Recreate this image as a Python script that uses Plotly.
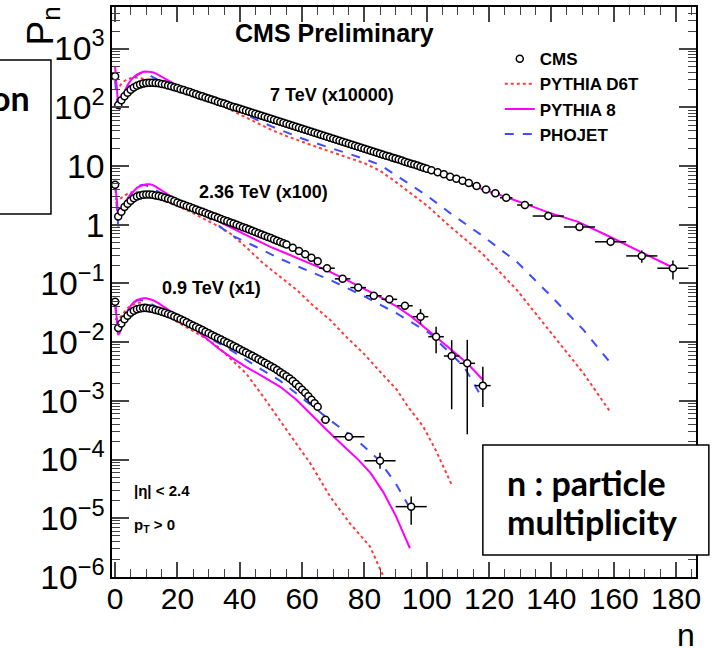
import plotly.graph_objects as go

# ---------------- CMS data (scaled) ----------------
n7_cms = list(range(0, 101)) + [101.5, 103.5, 105.5, 107.5, 109.5, 111.5, 113.5, 116, 119, 122, 125.5,
                                 131.5, 139, 149, 159, 169, 179]
p7_cms = [339, 110, 132, 155, 178, 200, 219, 234, 245, 254, 260, 263, 263, 260, 257, 251, 245, 237, 229, 221,
          214, 204, 197, 189, 182, 174, 167, 160, 154, 148, 142, 136, 131, 125, 120, 116, 111, 106, 102,
          98.4, 94.6, 91.0, 87.5, 84.1, 80.9, 77.8, 74.8, 71.9, 69.2, 66.5, 64.0, 61.5, 59.2, 56.9, 54.7,
          52.6, 50.6, 48.6, 46.8, 45.0, 43.3, 41.6, 40.0, 38.5, 37.0, 35.6, 34.2, 32.9, 31.6, 30.4, 29.2,
          28.1, 27.0, 26.0, 25.0, 24.0, 23.1, 22.2, 21.4, 20.6, 19.8,
          19.0, 18.3, 17.6, 16.9, 16.3, 15.6, 15.0, 14.5, 13.9, 13.4, 12.9, 12.4, 11.9, 11.4, 11.0, 10.6,
          10.2, 9.77, 9.40, 9.04,
          8.51, 7.85, 7.24, 6.61, 6.10, 5.62, 5.13, 4.57, 3.98, 3.43, 2.88, 2.17, 1.41, 0.918, 0.513,
          0.295, 0.182]
ex7_cms = [0] * 101 + [1, 1, 1, 1, 1, 1, 1, 1.5, 1.5, 1.5, 2, 2.5, 5, 5, 5, 5, 5]
ey7_cms = [0] * 101 + [0, 0, 0, 0, 0, 0, 0, 0, 0, 0, 0, 0.1, 0.13, 0.10, 0.08, 0.07, 0.065]

n2_cms = list(range(0, 56)) + [57, 59, 61, 63, 65, 68, 73, 78, 83, 88, 93, 98, 103, 108, 113, 118]
p2_cms = [4.79, 1.38, 1.66, 2.00, 2.29, 2.57, 2.82, 3.02, 3.16, 3.24, 3.27, 3.27, 3.24, 3.16, 3.09, 2.99,
          2.88, 2.77, 2.66, 2.53, 2.40, 2.29, 2.19, 2.09, 2.00, 1.91, 1.82, 1.74, 1.66, 1.585, 1.51, 1.445,
          1.38, 1.32, 1.26, 1.20, 1.148, 1.096, 1.047, 1.0, 0.955, 0.912, 0.871, 0.832, 0.793, 0.755,
          0.719, 0.685, 0.653, 0.622, 0.593, 0.564, 0.536, 0.509, 0.484, 0.460,
          0.407, 0.359, 0.316, 0.275, 0.240,
          0.182, 0.120, 0.0851, 0.0617, 0.0537, 0.0417, 0.0272, 0.0124, 0.00582, 0.00437, 0.00182]
ex2_cms = [0] * 56 + [1] * 5 + [2.5] * 11
ey2_up = [0] * 61 + [0.008, 0.006, 0.005, 0.0055, 0.0065, 0.0062, 0.0095, 0.0060, 0.0050, 0.0066, 0.0020]
ey2_dn = [0] * 61 + [0.008, 0.006, 0.005, 0.0050, 0.0058, 0.0054, 0.0071, 0.0059, 0.0051, 0.0041, 0.00103]

n09_cms = list(range(0, 66)) + [67.5, 75, 85, 95]
p09_cms = [0.0490, 0.0174, 0.0209, 0.0245, 0.0282, 0.0316, 0.0343, 0.0363, 0.0376, 0.0382, 0.0382, 0.0376,
           0.0366, 0.0355, 0.0343, 0.0330, 0.0316, 0.0303, 0.0290, 0.0275, 0.0260, 0.0245, 0.0231, 0.0218,
           0.0205, 0.0193, 0.0182, 0.0171, 0.0161, 0.0151, 0.0142, 0.0133, 0.0125, 0.0118, 0.0111, 0.0104,
           0.00977, 0.00918, 0.00863, 0.00809, 0.00759, 0.00711, 0.00667, 0.00625, 0.00586, 0.00550,
           0.00513, 0.00479, 0.00447, 0.00417, 0.00389, 0.00363, 0.00335, 0.00309, 0.00285, 0.00263,
           0.00240, 0.00219, 0.00195, 0.00174, 0.00155, 0.00138, 0.00120, 0.00105, 0.000912, 0.000794,
           0.000479, 0.000245, 9.55e-5, 1.58e-5]
ex09_cms = [0] * 66 + [1.5, 5, 5, 5]
ey09_up = [0] * 66 + [3e-5, 1.7e-5, 3.5e-5, 7.6e-6]
ey09_dn = [0] * 66 + [3e-5, 1.7e-5, 2.6e-5, 8.0e-6]

# ---------------- MC: 7 TeV (x10000) ----------------
n7_p8 = [0, 1, 2, 3, 4, 5, 6, 7, 8, 9, 10, 11, 12, 13, 14, 16, 18, 20, 24, 28, 32, 36, 40, 45, 50, 55, 60,
         65, 70, 75, 80, 85, 90, 95, 100, 107.5, 115, 120, 125, 131.5, 138.5, 148.6, 158.6, 168.6, 178.6]
p7_p8 = [490, 107, 141, 191, 240, 288, 331, 363, 389, 403, 407, 407, 398, 380, 355, 309, 269, 234, 186, 151,
         123, 100, 85.1, 69.2, 56.2, 46.8, 38.9, 32.4, 27.5, 22.9, 19.1, 15.8, 13.2, 11.0, 8.91, 6.31, 4.57,
         3.72, 3.02, 2.29, 1.66, 1.12, 0.631, 0.347, 0.191]
n7_pho = [0, 1, 2, 3, 4, 5, 6, 7, 8, 9, 10, 11, 12, 14, 16, 18, 20, 25, 30, 35, 40, 45, 50, 55, 60, 65, 70,
          75, 80, 85, 91.4, 100, 107.5, 118.2, 128.9, 139.6, 150.3, 158.6]
p7_pho = [282, 79.4, 112, 158, 209, 263, 316, 355, 380, 380, 372, 355, 331, 288, 257, 234, 214, 174, 141, 112,
          87.1, 63.1, 47.9, 37.2, 29.5, 24.0, 20.0, 16.2, 13.2, 10.5, 6.31, 3.16, 1.58, 0.631, 0.234, 0.0631,
          0.0162, 0.00468]
n7_d6t = [0, 1, 2, 3, 4, 5, 6, 7, 8, 10, 12, 15, 20, 25, 30, 35, 40, 45, 50, 55, 60, 65, 70, 75, 80, 85,
          89.3, 95, 100, 107.5, 118, 128.9, 139.6, 150.3, 158.8]
p7_d6t = [200, 214, 251, 282, 302, 316, 324, 324, 316, 302, 282, 251, 214, 178, 141, 105, 75.9, 56.2, 41.7,
          32.4, 25.7, 20.9, 17.0, 13.8, 11.2, 8.32, 5.75, 3.39, 2.14, 0.933, 0.316, 0.0776, 0.0151, 0.00295,
          0.000661]

# ---------------- MC: 2.36 TeV (x100) ----------------
n2_p8 = [0, 1, 2, 3, 4, 5, 6, 7, 8, 9, 10, 11, 12, 13, 14, 16, 18, 20, 25, 30, 35, 40, 45, 50, 55, 60, 65,
         69, 75, 80, 85, 90, 95, 101, 107.5, 113, 118]
p2_p8 = [5.37, 1.38, 1.82, 2.29, 2.82, 3.31, 3.80, 4.27, 4.57, 4.79, 4.90, 4.90, 4.79, 4.47, 4.17, 3.55, 3.02,
         2.51, 1.86, 1.38, 1.00, 0.741, 0.550, 0.417, 0.324, 0.251, 0.195, 0.158, 0.110, 0.0813, 0.0589,
         0.0417, 0.0275, 0.0151, 0.00759, 0.00437, 0.00229]
n2_pho = [0, 1, 2, 3, 4, 5, 6, 7, 8, 9, 10, 11, 12, 14, 16, 18, 20, 25, 30, 37, 45, 53, 60, 69, 80, 90.4,
          101, 107.5, 112, 118.2]
p2_pho = [5.01, 0.933, 1.41, 2.00, 2.63, 3.31, 3.89, 4.37, 4.68, 4.79, 4.68, 4.47, 4.17, 3.63, 3.16, 2.82,
          2.51, 1.86, 1.32, 0.676, 0.427, 0.263, 0.182, 0.115, 0.0603, 0.0309, 0.0141, 0.00646, 0.00380,
          0.00102]
n2_d6t = [0, 1, 2, 3, 4, 5, 6, 7, 8, 10, 12, 15, 20, 25, 30, 34, 37, 42, 47.6, 53, 58.3, 63, 69, 74, 79.7,
          85, 90.4, 94, 98.9, 103, 108]
p2_d6t = [2.82, 2.63, 2.88, 3.16, 3.39, 3.55, 3.63, 3.63, 3.55, 3.31, 3.02, 2.63, 2.09, 1.58, 1.15, 0.891,
          0.708, 0.417, 0.219, 0.132, 0.0776, 0.0447, 0.0240, 0.0126, 0.00646, 0.00316, 0.00155, 0.000794,
          0.000363, 0.000141, 3.72e-5]

# ---------------- MC: 0.9 TeV (x1) ----------------
n09_p8 = [0, 1, 2, 3, 4, 5, 6, 7, 8, 9, 10, 11, 12, 14, 16, 18, 20, 25, 29, 33, 37, 42, 47.6, 53, 58, 63,
          68, 74, 78, 82, 86, 90, 94.6]
p09_p8 = [0.0501, 0.0132, 0.0191, 0.0263, 0.0339, 0.0417, 0.0479, 0.0525, 0.0550, 0.0562, 0.0562, 0.0550,
          0.0525, 0.0457, 0.0389, 0.0331, 0.0282, 0.0178, 0.0117, 0.00794, 0.00562, 0.00380, 0.00257,
          0.00174, 0.00107, 0.000575, 0.000316, 0.000158, 0.0001, 5.89e-5, 2.82e-5, 1.12e-5, 3.09e-6]
n09_pho = [0, 1, 2, 3, 4, 5, 6, 7, 8, 9, 10, 12, 14, 16, 18, 20, 25, 30, 37, 45, 53, 60, 69, 77.6, 84.5,
           90, 94.6]
p09_pho = [0.0447, 0.0123, 0.0178, 0.0251, 0.0331, 0.0407, 0.0468, 0.0513, 0.0525, 0.0513, 0.0490, 0.0437,
           0.0380, 0.0331, 0.0288, 0.0251, 0.0174, 0.0120, 0.00741, 0.00398, 0.00219, 0.00112, 0.000468,
           0.000214, 0.0001, 3.98e-5, 1.48e-5]
n09_d6t = [0, 1, 2, 3, 4, 5, 6, 7, 8, 9, 10, 12, 15, 20, 25, 29, 33, 37, 42, 47.6, 53, 58, 62.6, 69, 75.4,
           81.8, 87]
p09_d6t = [0.0251, 0.0240, 0.0282, 0.0331, 0.0380, 0.0417, 0.0447, 0.0468, 0.0468, 0.0457, 0.0437, 0.0389,
           0.0316, 0.0224, 0.0158, 0.0117, 0.00832, 0.00525, 0.00295, 0.00117, 0.000468, 0.000191, 8.71e-5,
           2.34e-5, 8.13e-6, 3.31e-6, 7.94e-7]

# ---------------- styles ----------------
RED = "#ff3b3b"
MAG = "#ff00ff"
BLUE = "#3f4dff"
FONT = "Liberation Sans, Arial, sans-serif"
BOXFONT = "Lato, Open Sans, sans-serif"

fig = go.Figure()

def mc(x, y, name, color, dash, show, rank):
    fig.add_trace(go.Scatter(x=x, y=y, mode="lines", name=name, legendgroup=name, showlegend=show,
                             legendrank=rank, line=dict(color=color, width=2, dash=dash)))

for (nx, py, s) in [(n7_d6t, p7_d6t, True), (n2_d6t, p2_d6t, False), (n09_d6t, p09_d6t, False)]:
    mc(nx, py, "PYTHIA D6T", RED, "dot", s, 2)
for (nx, py, s) in [(n7_pho, p7_pho, True), (n2_pho, p2_pho, False), (n09_pho, p09_pho, False)]:
    mc(nx, py, "PHOJET", BLUE, "dash", s, 4)
for (nx, py, s) in [(n7_p8, p7_p8, True), (n2_p8, p2_p8, False), (n09_p8, p09_p8, False)]:
    mc(nx, py, "PYTHIA 8", MAG, "solid", s, 3)

def cms(x, y, ex, eyu, eyd, show):
    fig.add_trace(go.Scatter(
        x=x, y=y, mode="markers", name="CMS", legendgroup="CMS", showlegend=show, legendrank=1,
        marker=dict(symbol="circle", size=7, color="white", line=dict(color="black", width=1.5)),
        error_x=dict(type="data", array=ex, symmetric=True, thickness=1.5, width=0, color="black"),
        error_y=dict(type="data", array=eyu, arrayminus=eyd, symmetric=False, thickness=1.5, width=0,
                     color="black")))

cms(n7_cms, p7_cms, ex7_cms, ey7_cms, ey7_cms, True)
cms(n2_cms, p2_cms, ex2_cms, ey2_up, ey2_dn, False)
cms(n09_cms, p09_cms, ex09_cms, ey09_up, ey09_dn, False)

# ---------------- layout ----------------
def ann(text, x, y, size, xanchor="center", bold=True, family=FONT, angle=0):
    fig.add_annotation(text=text, x=x, y=y, xref="paper", yref="paper", showarrow=False,
                       xanchor=xanchor, yanchor="middle", textangle=angle,
                       font=dict(family=family, size=size, color="black",
                                 weight="bold" if bold else "normal"))

ann("CMS Preliminary", 0.3818, 0.954, 25)
ann("7 TeV (x10000)", 0.3767, 0.8456, 18)
ann("2.36 TeV (x100)", 0.2594, 0.6754, 18)
ann("0.9 TeV (x1)", 0.1712, 0.507, 18)
ann("|η| < 2.4", 0.0342, 0.1526, 15, xanchor="left")
ann("p<sub>T</sub> > 0", 0.0342, 0.0912, 15, xanchor="left")
ann("P<sub>n</sub>", -0.118, 0.966, 37, bold=False, angle=-90)
ann("n", 0.983, -0.102, 32, bold=False)

# text boxes
fig.add_shape(type="rect", xref="paper", yref="paper", x0=0.635, x1=1.022, y0=0.0386, y1=0.2316,
              line=dict(color="black", width=1.5), fillcolor="white", layer="above")
fig.add_shape(type="rect", xref="paper", yref="paper", x0=-0.25, x1=-0.1045, y0=0.637, y1=0.907,
              line=dict(color="black", width=1.5), fillcolor="white", layer="above")
ann("n : particle", 0.673, 0.165, 34, xanchor="left", family=BOXFONT)
ann("multiplicity", 0.673, 0.0965, 34, xanchor="left", family=BOXFONT)
ann("on", -0.137, 0.842, 34, xanchor="right", family=BOXFONT)

fig.update_layout(
    width=713, height=648,
    margin=dict(l=112, r=17, t=7, b=71, autoexpand=False),
    paper_bgcolor="white", plot_bgcolor="white",
    font=dict(family=FONT, color="black"),
    legend=dict(x=0.664, y=0.94, xanchor="left", yanchor="top", bgcolor="rgba(0,0,0,0)",
                tracegroupgap=0, font=dict(family=FONT, size=17, weight="bold"), itemwidth=30),
    xaxis=dict(range=[-1, 186.4], tick0=0, dtick=20, ticks="inside", ticklen=15, tickwidth=1.5,
               minor=dict(ticks="inside", ticklen=8, tickwidth=1, dtick=5), automargin=False,
               ticklabelstandoff=-6,
               showline=True, linewidth=2, linecolor="black", mirror="ticks",
               showgrid=False, zeroline=False, tickfont=dict(size=30, family=FONT)),
    yaxis=dict(type="log", range=[-6, 3.71], tick0=0, dtick=1, exponentformat="power",
               ticks="inside", ticklen=17, tickwidth=1.5, automargin=False,
               minor=dict(ticks="inside", ticklen=8, tickwidth=1),
               showline=True, linewidth=2, linecolor="black", mirror="ticks",
               showgrid=False, zeroline=False, tickfont=dict(size=27, family=FONT)),
)

fig.write_html("out.html", config={"displayModeBar": False},
               post_script="document.body.style.margin='0';")
